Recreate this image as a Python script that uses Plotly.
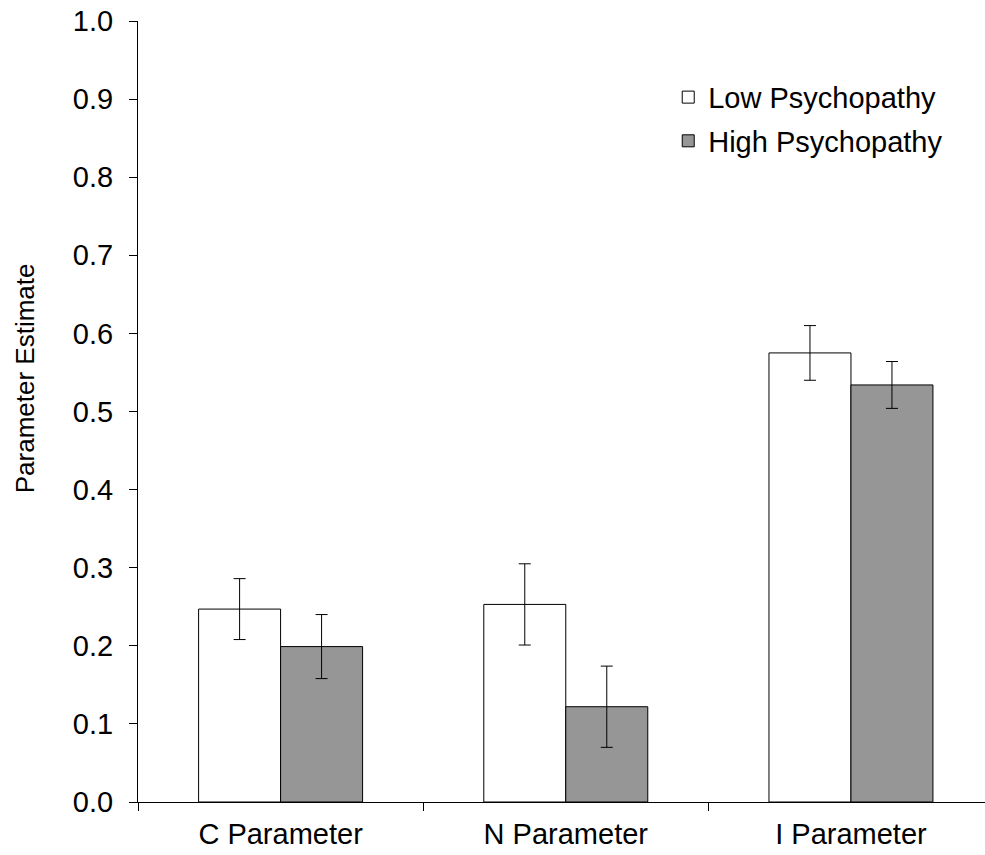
import plotly.graph_objects as go

categories = ["C Parameter", "N Parameter", "I Parameter"]
low_values = [0.247, 0.253, 0.575]
low_errors = [0.039, 0.052, 0.035]
high_values = [0.199, 0.122, 0.534]
high_errors = [0.041, 0.052, 0.030]
y_ticks = [0.0, 0.1, 0.2, 0.3, 0.4, 0.5, 0.6, 0.7, 0.8, 0.9, 1.0]

FONT = "Liberation Sans, Arial, sans-serif"

fig = go.Figure()
fig.add_trace(go.Bar(
    x=categories, y=low_values, name="Low Psychopathy", legendgroup="low",
    marker=dict(color="white", line=dict(color="black", width=1)),
    error_y=dict(type="data", array=low_errors, visible=True, color="black", thickness=1, width=6),
))
fig.add_trace(go.Bar(
    x=categories, y=high_values, name="High Psychopathy", legendgroup="high",
    marker=dict(color="#969696", line=dict(color="black", width=1)),
    error_y=dict(type="data", array=high_errors, visible=True, color="black", thickness=1, width=6),
))

fig.update_layout(
    width=985, height=855,
    margin=dict(l=138, r=0, t=21, b=53),
    paper_bgcolor="white", plot_bgcolor="white",
    font=dict(family=FONT, size=29, color="black"),
    barmode="group", bargap=0.425, bargroupgap=0,
    showlegend=True,
    legend=dict(x=0.626, y=0.935, xanchor="left", yanchor="top",
                bgcolor="rgba(0,0,0,0)", borderwidth=0,
                traceorder="grouped", tracegroupgap=3,
                font=dict(family=FONT, size=29)),
    xaxis=dict(type="category", range=[-0.5, 2.47], showline=True, linecolor="black", linewidth=1,
               ticks="outside", tickson="boundaries", ticklen=8, tickcolor="black",
               ticklabelstandoff=6, showgrid=False, zeroline=False,
               tickfont=dict(family=FONT, size=29)),
    yaxis=dict(range=[0, 1], tickvals=y_ticks, tickformat=".1f", showline=True, linecolor="black",
               linewidth=1, ticks="outside", ticklen=8, tickcolor="black", ticklabelstandoff=10,
               showgrid=False, zeroline=False, tickfont=dict(family=FONT, size=29)),
    annotations=[dict(text="Parameter Estimate", textangle=-90, xref="paper", yref="paper",
                      x=-0.133, y=0.543, xanchor="center", yanchor="middle", showarrow=False,
                      font=dict(family=FONT, size=26))],
)

fig.write_html("out.html")
